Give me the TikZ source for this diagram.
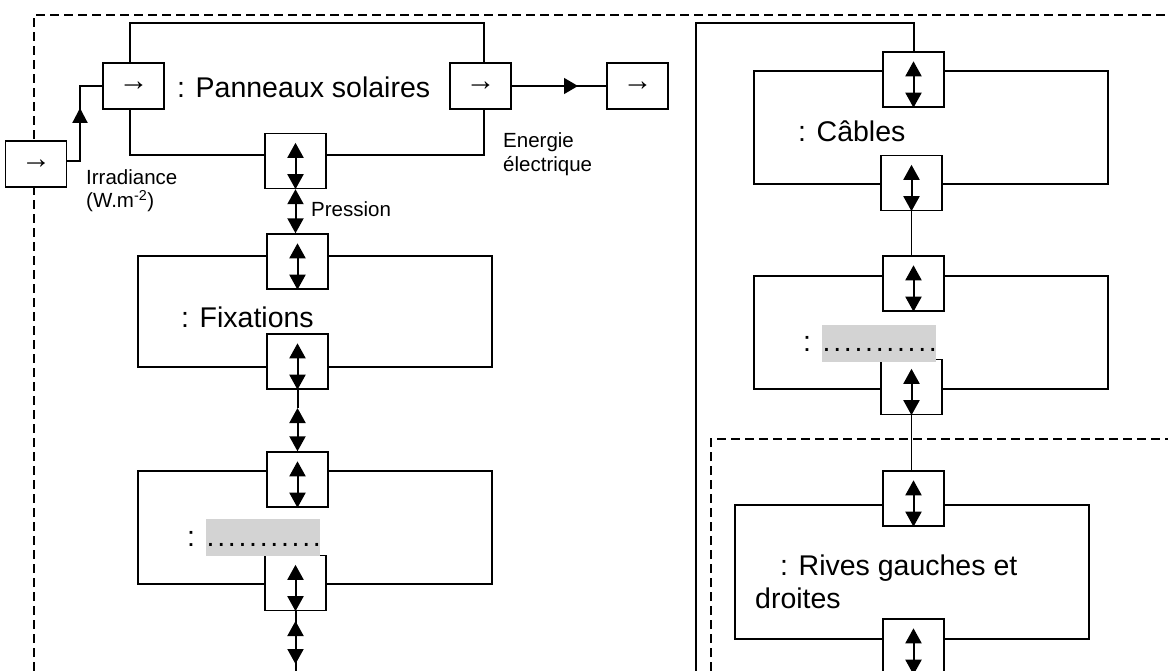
\documentclass[tikz,border=0pt]{standalone}
\usepackage{fontspec}
\setmainfont{Liberation Sans}
\usetikzlibrary{arrows.meta}
\definecolor{hlgray}{HTML}{D3D3D3}
\newcommand\fielddots{{\setlength{\fboxsep}{0pt}\colorbox{hlgray}{\rule[-10pt]{0pt}{37pt}\makebox[114pt][l]{\kern1pt.\kern2.7pt.\kern2.7pt.\kern2.7pt.\kern2.7pt.\kern2.7pt.\kern2.7pt.\kern2.7pt.\kern2.7pt.\kern2.7pt.\kern2.7pt.}}}}
\begin{document}
\begin{tikzpicture}[x=1pt,y=-1pt,
  dsh/.style={line width=1.4pt, dash pattern=on 9pt off 5pt},
  frm/.style={draw, line width=1.3pt, minimum width=354pt, inner sep=0pt},
  blk/.style={draw, line width=1.4pt, fill=white, minimum width=61pt, minimum height=55pt, inner sep=0pt},
  rblk/.style={blk, minimum height=46pt, font=\fontsize{30}{30}\selectfont},
  dbl/.style={line width=2pt, {Triangle[width=16pt,length=15pt]}-{Triangle[width=16pt,length=15pt]}},
  ln/.style={line width=1.4pt},
  ln2/.style={line width=2pt},
  lbl/.style={inner sep=0pt, anchor=base west, font=\fontsize{28.5}{32}\selectfont},
  sml/.style={inner sep=0pt, anchor=base west, font=\fontsize{20.5}{24}\selectfont}]
\useasboundingbox (0,0) rectangle (1168,671);
% dashed frames
\draw[dsh] (34,671) -- (34,15) -- (1168,15);
\draw[dsh] (711,671) -- (711,439) -- (1168,439);
% component frames
\node[frm, minimum height=132pt] (fp) at (307,89) {};
\node[frm, minimum height=111pt] (ff) at (315,311.5) {};
\node[frm, minimum height=113pt] (fa) at (315,527.5) {};
\node[frm, minimum height=113pt] (fc) at (931,127.5) {};
\node[frm, minimum height=113pt] (fb) at (931,332.5) {};
\node[frm, minimum height=134pt] (fr) at (912,572) {};
% single arrow boxes
\node[rblk] (in1) at (36,164) {→};
\node[rblk] (b2) at (133.5,86) {→};
\node[rblk] (b3) at (480.5,86) {→};
\node[rblk] (b4) at (637.5,86) {→};
% double arrow boxes
\node[blk] (b5) at (295.5,161) {};
\node[blk] (b6) at (297.5,261.5) {};
\node[blk] (b7) at (297.5,361.5) {};
\node[blk] (b8) at (297.5,479.5) {};
\node[blk] (b9) at (295.5,583) {};
\node[blk] (b10) at (913.5,79.5) {};
\node[blk] (b11) at (911.5,183) {};
\node[blk] (b12) at (913.5,283.5) {};
\node[blk] (b13) at (911.5,387) {};
\node[blk] (b14) at (913.5,498.5) {};
\node[blk] (b15) at (913.5,646.5) {};
\foreach \n in {b5,b6,b7,b8,b9,b10,b11,b12,b13,b14,b15}
  \draw[dbl] ([yshift=-10pt]\n.north) -- (\n.south);
% connectors
\coordinate (k0) at (80,161);
\coordinate (k1) at (80,86);
\coordinate (ka) at (80,108);
\draw[line width=2.2pt] (in1.east |- k0) -- (k0) -- (k1) -- (b2.west);
\draw[line width=2.2pt, -{Triangle[width=15pt,length=15pt]}] (k0) -- (ka);
\coordinate (ma) at (578,86);
\draw[ln] (b3.east) -- (b4.west);
\draw[ln, -{Triangle[width=16pt,length=14pt]}] (b3.east) -- (ma);
\draw[dbl] (b5.south) -- (b5.south |- b6.north);
\coordinate (c78) at (297.5,408);
\draw[ln2] (b7.south) -- (c78);
\draw[dbl] (c78) -- (b8.north);
\coordinate (c9a) at (295.5,621);
\coordinate (c9b) at (295.5,664);
\coordinate (c9c) at (295.5,671);
\draw[ln2] (b9.south) -- (c9c);
\draw[dbl] (c9a) -- (c9b);
\draw[ln] (b11.south) -- (b11.south |- b12.north);
\draw[ln] (b13.south) -- (b13.south |- b14.north);
\coordinate (L0) at (696,671);
\coordinate (L1) at (696,23);
\draw[ln2] (L0) -- (L1) -| (b10.north);
% labels
\node[lbl] (tp) at (177,98) {: Panneaux solaires};
\node[lbl] (tf) at (181,327) {: Fixations};
\node[lbl] (tc) at (798,142) {: Câbles};
\node[lbl] (ta) at (187,546) {: \fielddots};
\node[lbl] (tb) at (803,352) {: \fielddots};
\node[lbl] (tr1) at (780,575) {: Rives gauches et};
\node[lbl] (tr2) at (755,608) {droites};
\node[sml] (ti1) at (86,185) {Irradiance};
\node[sml] (ti2) at (86,208) {(W.m\textsuperscript{-2})};
\node[sml] (te1) at (503,148) {Energie};
\node[sml] (te2) at (503,172) {électrique};
\node[sml] (tpr) at (311,217) {Pression};
\end{tikzpicture}
\end{document}
